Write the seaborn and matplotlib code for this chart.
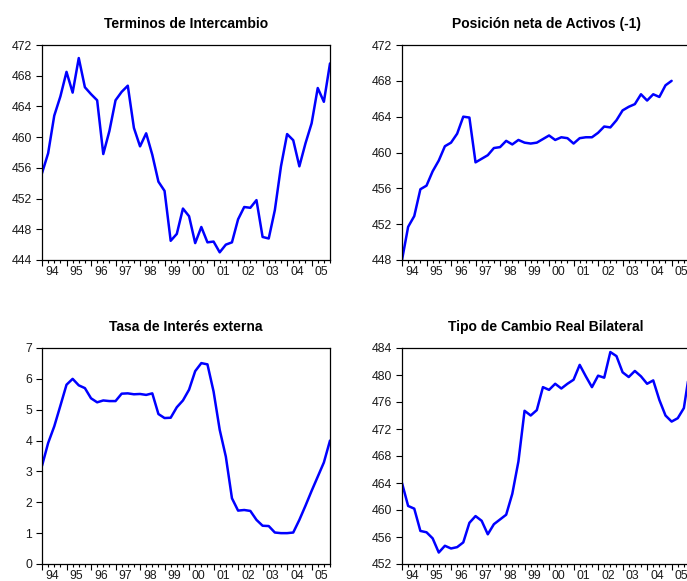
import numpy as np
import pandas as pd
import matplotlib
matplotlib.use("Agg")
import matplotlib.pyplot as plt
import seaborn as sns

# ---- data (quarterly, starting 1994Q1) ----
years = ["94", "95", "96", "97", "98", "99", "00", "01", "02", "03", "04", "05"]

terminos = [455.3, 457.9, 462.8, 465.3, 468.5, 465.8, 470.3, 466.5, 465.6, 464.8,
            457.8, 460.8, 464.8, 465.9, 466.7, 461.2, 458.8, 460.5, 457.7, 454.2,
            453.0, 446.5, 447.4, 450.7, 449.7, 446.2, 448.3, 446.3, 446.4, 445.0,
            446.0, 446.3, 449.3, 450.9, 450.8, 451.8, 447.0, 446.8, 450.5, 456.2,
            460.4, 459.6, 456.2, 459.2, 461.8, 466.4, 464.6, 469.6]

activos = [448.0, 451.7, 452.9, 455.9, 456.3, 457.9, 459.1, 460.7, 461.1, 462.1,
           464.0, 463.9, 458.9, 459.3, 459.7, 460.5, 460.6, 461.3, 460.9, 461.4,
           461.1, 461.0, 461.1, 461.5, 461.9, 461.4, 461.7, 461.6, 461.0, 461.6,
           461.7, 461.7, 462.2, 462.9, 462.8, 463.6, 464.7, 465.1, 465.4, 466.5,
           465.8, 466.5, 466.2, 467.5, 468.0]

tasa = [3.18, 3.92, 4.46, 5.13, 5.81, 6.00, 5.79, 5.70, 5.37, 5.24,
        5.30, 5.28, 5.28, 5.52, 5.53, 5.50, 5.51, 5.48, 5.53, 4.86,
        4.73, 4.74, 5.08, 5.30, 5.65, 6.25, 6.51, 6.47, 5.59, 4.35,
        3.48, 2.13, 1.73, 1.75, 1.72, 1.43, 1.24, 1.23, 1.02, 1.00,
        1.00, 1.02, 1.43, 1.89, 2.37, 2.83, 3.29, 4.00]

tipo_cambio = [464.0, 460.6, 460.2, 456.9, 456.7, 455.8, 453.7, 454.7, 454.3, 454.5,
               455.2, 458.1, 459.1, 458.4, 456.4, 457.9, 458.6, 459.3, 462.4, 467.2,
               474.7, 474.0, 474.8, 478.2, 477.8, 478.7, 478.0, 478.7, 479.3, 481.5,
               479.8, 478.2, 479.9, 479.6, 483.4, 482.8, 480.4, 479.7, 480.6, 479.8,
               478.7, 479.2, 476.3, 474.0, 473.1, 473.6, 475.1, 481.0]

titles = ["Terminos de Intercambio", "Posición neta de Activos (-1)",
          "Tasa de Interés externa", "Tipo de Cambio Real Bilateral"]
yticks = [np.arange(444, 473, 4), np.arange(448, 473, 4),
          np.arange(0, 8, 1), np.arange(452, 485, 4)]
series = [terminos, activos, tasa, tipo_cambio]

sns.set_theme(style="ticks")
plt.rcParams["font.family"] = ["Liberation Sans", "DejaVu Sans"]

W, H = 687, 581
fig = plt.figure(figsize=(W / 100, H / 100), dpi=100)

# axes boxes in pixels: left, top, right, bottom
boxes = [(42, 45, 330, 260), (402, 45, 690, 260),
         (42, 348, 330, 564), (402, 348, 690, 564)]

n_q = 4 * len(years)
for vals, title, yt, (l, t, r, b) in zip(series, titles, yticks, boxes):
    ax = fig.add_axes([l / W, (H - b) / H, (r - l) / W, (b - t) / H])
    df = pd.DataFrame({"q": np.arange(len(vals)), "v": vals})
    sns.lineplot(data=df, x="q", y="v", ax=ax, color="#0000FF", linewidth=1.8)
    ax.set_xlim(0, n_q - 1)
    ax.set_ylim(yt[0], yt[-1])
    ax.set_yticks(yt)
    ax.set_yticklabels([str(v) for v in yt])
    ax.set_xticks(np.arange(0, n_q, 4))
    ax.set_xticklabels([])
    ax.set_xticks(np.arange(0, n_q, 1), minor=True)
    ax.tick_params(axis="x", which="major", length=4, width=0.8, direction="out", color="black")
    ax.tick_params(axis="x", which="minor", length=2, width=0.8, direction="out", color="black")
    ax.tick_params(axis="y", which="major", length=4, width=0.8, direction="out",
                   labelsize=8.8, pad=3, color="black", labelcolor="#1a1a1a")
    for i, yl in enumerate(years):
        ax.annotate(yl, xy=(4 * i + 1.6, 0), xycoords=("data", "axes fraction"),
                    xytext=(0, -4.5), textcoords="offset points",
                    ha="center", va="top", fontsize=8.8, color="#1a1a1a",
                    annotation_clip=False)
    for s in ax.spines.values():
        s.set_visible(True)
        s.set_linewidth(0.9)
        s.set_color("black")
    ax.set_xlabel("")
    ax.set_ylabel("")
    ax.set_title(title, fontsize=10, fontweight="bold", pad=12, color="black")
    ax.grid(False)

fig.savefig("out.png", dpi=100)
